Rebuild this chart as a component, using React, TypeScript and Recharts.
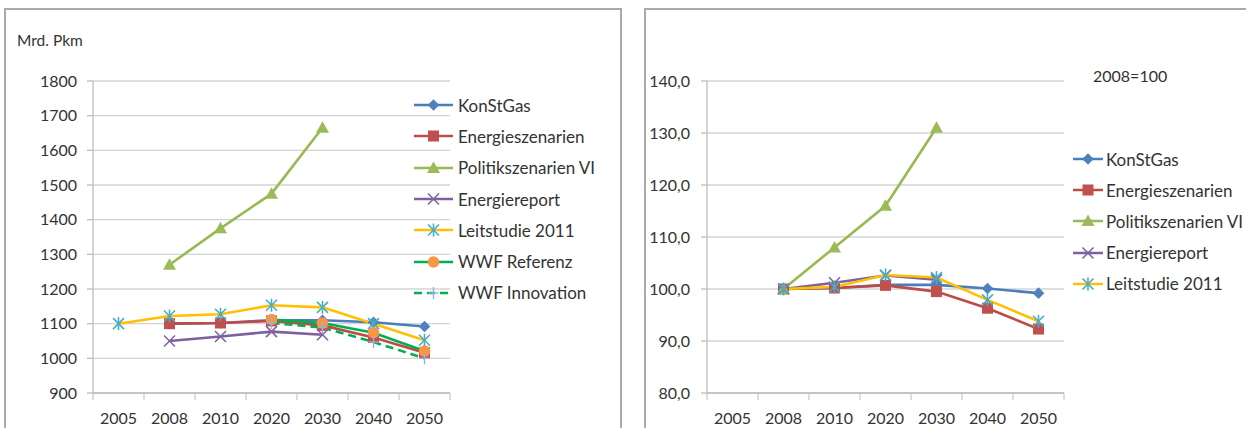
import React from 'react'
import { LineChart, Line, XAxis, YAxis, CartesianGrid, Legend } from 'recharts'

const years = ['2005', '2008', '2010', '2020', '2030', '2040', '2050']

// Mrd. Pkm
const konstgasPkm = [null, 1100, 1102, 1110, 1110, 1104, 1092]
const energieszenarienPkm = [null, 1100, 1102, 1108, 1095, 1060, 1016]
const politikPkm = [null, 1270, 1375, 1475, 1665, null, null]
const energiereportPkm = [null, 1050, 1063, 1077, 1068, null, null]
const leitstudiePkm = [1100, 1122, 1127, 1153, 1147, 1100, 1052]
const wwfReferenzPkm = [null, null, null, 1112, 1102, 1074, 1021]
const wwfInnovationPkm = [null, null, null, 1102, 1089, 1047, 1000]

// 2008 = 100
const konstgasIdx = [null, 100, 100.2, 100.8, 100.8, 100.1, 99.2]
const energieszenarienIdx = [null, 100, 100.2, 100.7, 99.5, 96.3, 92.3]
const politikIdx = [null, 100, 108, 116, 131, null, null]
const energiereportIdx = [null, 100, 101.2, 102.6, 101.8, null, null]
const leitstudieIdx = [null, 100, 100.4, 102.7, 102.2, 97.9, 93.8]

const pkmTicks = [900, 1000, 1100, 1200, 1300, 1400, 1500, 1600, 1700, 1800]
const idxTicks = [80, 90, 100, 110, 120, 130, 140]

const FONT = 'Lato, "Open Sans", sans-serif'
const TEXT = '#333'
const GRID = '#d4d4d4'
const AXIS = '#bdbdbd'

type Shape = 'diamond' | 'square' | 'triangle' | 'x' | 'star' | 'circle' | 'plus'

interface SeriesDef {
  key: string
  name: string
  line: string
  marker: string
  shape: Shape
  dash?: string
}

const SERIES: SeriesDef[] = [
  { key: 'konstgas', name: 'KonStGas', line: '#4A7EBB', marker: '#4F81BD', shape: 'diamond' },
  { key: 'energieszenarien', name: 'Energieszenarien', line: '#BE4B48', marker: '#C0504D', shape: 'square' },
  { key: 'politik', name: 'Politikszenarien VI', line: '#98B954', marker: '#9BBB59', shape: 'triangle' },
  { key: 'energiereport', name: 'Energiereport', line: '#7D60A0', marker: '#8064A2', shape: 'x' },
  { key: 'leitstudie', name: 'Leitstudie 2011', line: '#FFC000', marker: '#4BACC6', shape: 'star' },
  { key: 'wwfReferenz', name: 'WWF Referenz', line: '#00B050', marker: '#F79646', shape: 'circle' },
  { key: 'wwfInnovation', name: 'WWF Innovation', line: '#00B050', marker: '#95B3D7', shape: 'plus', dash: '8 5' },
]

const leftData = years.map((year, i) => ({
  year,
  konstgas: konstgasPkm[i],
  energieszenarien: energieszenarienPkm[i],
  politik: politikPkm[i],
  energiereport: energiereportPkm[i],
  leitstudie: leitstudiePkm[i],
  wwfReferenz: wwfReferenzPkm[i],
  wwfInnovation: wwfInnovationPkm[i],
}))

const rightData = years.map((year, i) => ({
  year,
  konstgas: konstgasIdx[i],
  energieszenarien: energieszenarienIdx[i],
  politik: politikIdx[i],
  energiereport: energiereportIdx[i],
  leitstudie: leitstudieIdx[i],
}))

function Marker({ shape, cx, cy, color }: { shape: Shape; cx: number; cy: number; color: string }) {
  switch (shape) {
    case 'diamond':
      return <polygon points={`${cx},${cy - 5.8} ${cx + 5.8},${cy} ${cx},${cy + 5.8} ${cx - 5.8},${cy}`} fill={color} />
    case 'square':
      return <rect x={cx - 5.5} y={cy - 5.5} width={11} height={11} fill={color} />
    case 'triangle':
      return <polygon points={`${cx},${cy - 6.5} ${cx + 6.5},${cy + 5} ${cx - 6.5},${cy + 5}`} fill={color} />
    case 'x':
      return (
        <g stroke={color} strokeWidth={1.6}>
          <line x1={cx - 5.5} y1={cy - 5.5} x2={cx + 5.5} y2={cy + 5.5} />
          <line x1={cx - 5.5} y1={cy + 5.5} x2={cx + 5.5} y2={cy - 5.5} />
        </g>
      )
    case 'star':
      return (
        <g stroke={color} strokeWidth={1.6}>
          <line x1={cx - 5.5} y1={cy - 5.5} x2={cx + 5.5} y2={cy + 5.5} />
          <line x1={cx - 5.5} y1={cy + 5.5} x2={cx + 5.5} y2={cy - 5.5} />
          <line x1={cx} y1={cy - 6.5} x2={cx} y2={cy + 6.5} />
        </g>
      )
    case 'circle':
      return <circle cx={cx} cy={cy} r={5.8} fill={color} />
    case 'plus':
      return (
        <g stroke={color} strokeWidth={1.4}>
          <line x1={cx - 5} y1={cy} x2={cx + 5} y2={cy} />
          <line x1={cx} y1={cy - 6} x2={cx} y2={cy + 6} />
        </g>
      )
  }
  return null
}

function makeDot(s: SeriesDef) {
  return (props: any) => {
    const { cx, cy, index, value } = props
    if (cx == null || cy == null || value == null) return <g key={`${s.key}-${index}`} />
    return (
      <g key={`${s.key}-${index}`}>
        <Marker shape={s.shape} cx={cx} cy={cy} color={s.marker} />
      </g>
    )
  }
}

function makeLegend(series: SeriesDef[], lineLen: number, gap: number, rowH: number) {
  return () => (
    <div style={{ fontFamily: FONT, fontSize: 17, color: TEXT }}>
      {series.map((s) => (
        <div key={s.key} style={{ height: rowH, display: 'flex', alignItems: 'center', whiteSpace: 'nowrap' }}>
          <svg width={lineLen} height={16} style={{ flex: 'none' }}>
            <line x1={0} y1={8} x2={lineLen} y2={8} stroke={s.line} strokeWidth={2.5} strokeDasharray={s.dash} />
            <Marker shape={s.shape} cx={lineLen / 2} cy={8} color={s.marker} />
          </svg>
          <span style={{ marginLeft: gap }}>{s.name}</span>
        </div>
      ))}
    </div>
  )
}

function makeYearTick(band: number) {
  return (props: any) => {
    const { x, y, payload, index } = props
    return (
      <g>
        <line x1={x - band / 2} y1={y} x2={x - band / 2} y2={y + 7} stroke={AXIS} />
        {index === years.length - 1 && <line x1={x + band / 2} y1={y} x2={x + band / 2} y2={y + 7} stroke={AXIS} />}
        <text x={x} y={y + 31} textAnchor="middle" fill={TEXT} fontSize={16} fontFamily={FONT}>
          {payload.value}
        </text>
      </g>
    )
  }
}

interface PanelProps {
  data: any[]
  series: SeriesDef[]
  width: number
  height: number
  yWidth: number
  right: number
  top: number
  bottom: number
  domain: [number, number]
  ticks: number[]
  tickMargin: number
  fmt?: (v: number) => string
  legend: { left: number; top: number; lineLen: number; gap: number; rowH: number }
}

function Panel(p: PanelProps) {
  const band = (p.width - p.yWidth - p.right) / years.length
  return (
    <LineChart width={p.width} height={p.height} data={p.data} margin={{ top: p.top, right: p.right, bottom: 0, left: 0 }}>
      <CartesianGrid vertical={false} stroke={GRID} strokeWidth={1.3} />
      <XAxis
        dataKey="year"
        height={p.bottom}
        padding={{ left: band / 2, right: band / 2 }}
        tickLine={false}
        tickSize={0}
        tickMargin={0}
        axisLine={{ stroke: AXIS, strokeWidth: 1.3 }}
        tick={makeYearTick(band)}
        interval={0}
      />
      <YAxis
        width={p.yWidth}
        domain={p.domain}
        ticks={p.ticks}
        interval={0}
        tickSize={6}
        tickMargin={p.tickMargin}
        tickLine={{ stroke: AXIS, strokeWidth: 1.3 }}
        axisLine={{ stroke: AXIS, strokeWidth: 1.3 }}
        tick={{ fill: TEXT, fontSize: 16, fontFamily: FONT }}
        tickFormatter={p.fmt}
      />
      <Legend
        layout="vertical"
        align="center"
        verticalAlign="middle"
        wrapperStyle={{ left: p.legend.left, top: p.legend.top, width: 220 }}
        content={makeLegend(p.series, p.legend.lineLen, p.legend.gap, p.legend.rowH)}
      />
      {p.series.map((s) => (
        <Line
          key={s.key}
          dataKey={s.key}
          name={s.name}
          stroke={s.line}
          strokeWidth={2.6}
          strokeDasharray={s.dash}
          dot={makeDot(s)}
          activeDot={false}
          isAnimationActive={false}
        />
      ))}
    </LineChart>
  )
}

export default function App() {
  return (
    <div style={{ position: 'absolute', left: 0, top: 0, width: 1246, height: 428, overflow: 'hidden', background: '#fff', fontFamily: FONT }}>
      <div style={{ position: 'absolute', left: 4, top: 8, width: 618, height: 440, border: '2px solid #aaa', boxSizing: 'border-box' }} />
      <div style={{ position: 'absolute', left: 644, top: 8, width: 640, height: 440, border: '2px solid #aaa', boxSizing: 'border-box' }} />
      <div style={{ position: 'absolute', left: 17, top: 31, fontSize: 15.5, color: TEXT }}>Mrd. Pkm</div>
      <div style={{ position: 'absolute', left: 1093, top: 66, fontSize: 16, color: TEXT }}>2008=100</div>

      <div style={{ position: 'absolute', left: 5, top: 9 }}>
        <Panel
          data={leftData}
          series={SERIES}
          width={617}
          height={419}
          yWidth={88}
          right={172}
          top={72}
          bottom={35}
          domain={[900, 1800]}
          ticks={pkmTicks}
          tickMargin={10}
          legend={{ left: 409, top: 80.5, lineLen: 39, gap: 5, rowH: 31.3 }}
        />
      </div>

      <div style={{ position: 'absolute', left: 645, top: 9 }}>
        <Panel
          data={rightData}
          series={SERIES.slice(0, 5)}
          width={620}
          height={419}
          yWidth={62}
          right={201}
          top={72}
          bottom={35}
          domain={[80, 140]}
          ticks={idxTicks}
          tickMargin={11}
          fmt={(v: number) => v.toFixed(1).replace('.', ',')}
          legend={{ left: 428, top: 134.5, lineLen: 30, gap: 3, rowH: 31.2 }}
        />
      </div>
    </div>
  )
}
